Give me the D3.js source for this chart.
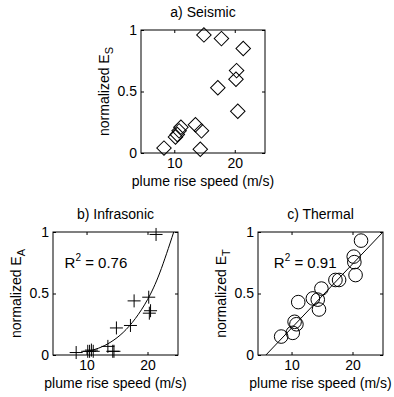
<!DOCTYPE html>
<html>
<head>
<meta charset="utf-8">
<script src="https://cdn.jsdelivr.net/npm/d3@7"></script>
<style>
  body { margin: 0; background: #fff; }
  text { font-family: "Liberation Sans", Arial, sans-serif; fill: #000; }
</style>
</head>
<body>
<script>
// plume rise speed (m/s), same events in every panel
const speed = [8.3, 10.2, 10.5, 10.8, 11.1, 13.5, 14.3, 14.5, 14.9, 17.2, 17.8, 20.2, 20.3, 20.5, 21.4];
// normalized energies
const seismic    = [0.04, 0.13, 0.15, 0.18, 0.21, 0.23, 0.03, 0.18, 0.96, 0.53, 0.93, 0.60, 0.67, 0.34, 0.85];
const infrasonic = [0.02, 0.03, 0.03, 0.04, 0.03, 0.07, 0.03, 0.03, 0.22, 0.24, 0.44, 0.47, 0.34, 0.36, 0.98];
const thermal    = [0.15, 0.18, 0.27, 0.25, 0.43, 0.46, 0.45, 0.37, 0.54, 0.61, 0.61, 0.80, 0.755, 0.65, 0.93];

// fitted curves
const infraFitX = [10, 12, 14, 16, 18, 20, 22, 24.3];
const infraFitY = [0.027, 0.056, 0.106, 0.183, 0.296, 0.45, 0.667, 1];
const thermalFitX = [5.8, 25];
const thermalFitY = [0, 1];

const xTicks = [10, 20];
const yTicks = [0, 0.5, 1];
const xDomain = [4.5, 25];
const yDomain = [0, 1];

const width = 394;
const height = 397;
const fontSize = 14;

const svg = d3.select("body")
    .append("svg")
    .attr("width", width)
    .attr("height", height);

function drawPanel(box, title, sub, ys, marker, fitX, fitY, r2) {
    const x = d3.scaleLinear().domain(xDomain).range([box.left, box.right]);
    const y = d3.scaleLinear().domain(yDomain).range([box.bottom, box.top]);
    const g = svg.append("g");
    const cx = (box.left + box.right) / 2;
    const cy = (box.top + box.bottom) / 2;

    // axes, ticks pointing inwards like matlab
    const styleAxis = (a) => {
        a.select(".domain").remove();
        a.selectAll("line").attr("stroke", "#000");
        a.selectAll("text").attr("font-size", fontSize).attr("font-family", "Liberation Sans, Arial, sans-serif");
    };
    g.append("g").attr("transform", "translate(0," + box.bottom + ")")
        .call(d3.axisBottom(x).tickValues(xTicks).tickSizeInner(-3).tickSizeOuter(0).tickPadding(5))
        .call(styleAxis);
    g.append("g").attr("transform", "translate(0," + box.top + ")")
        .call(d3.axisTop(x).tickValues(xTicks).tickSizeInner(-3).tickSizeOuter(0).tickFormat(""))
        .call(styleAxis);
    g.append("g").attr("transform", "translate(" + box.left + ",0)")
        .call(d3.axisLeft(y).tickValues(yTicks).tickSizeInner(-3).tickSizeOuter(0).tickPadding(4).tickFormat(d3.format("")))
        .call(styleAxis);
    g.append("g").attr("transform", "translate(" + box.right + ",0)")
        .call(d3.axisRight(y).tickValues(yTicks).tickSizeInner(-3).tickSizeOuter(0).tickFormat(""))
        .call(styleAxis);

    g.append("rect")
        .attr("x", box.left).attr("y", box.top)
        .attr("width", box.right - box.left).attr("height", box.bottom - box.top)
        .attr("fill", "none").attr("stroke", "#000").attr("stroke-width", 1);

    // clip for the fit line
    const clipId = "clip" + sub;
    svg.append("clipPath").attr("id", clipId).append("rect")
        .attr("x", box.left).attr("y", box.top)
        .attr("width", box.right - box.left).attr("height", box.bottom - box.top);

    if (fitX) {
        const pts = fitX.map((v, i) => [v, fitY[i]]);
        g.append("path")
            .attr("clip-path", "url(#" + clipId + ")")
            .attr("d", d3.line().x(d => x(d[0])).y(d => y(d[1])).curve(d3.curveNatural)(pts))
            .attr("fill", "none").attr("stroke", "#000").attr("stroke-width", 1);
    }

    const data = speed.map((s, i) => ({ s: s, v: ys[i] }));
    const pts = g.append("g").attr("fill", "none").attr("stroke", "#000").attr("stroke-width", 1);
    if (marker === "diamond") {
        pts.selectAll("path").data(data).join("path")
            .attr("transform", d => "translate(" + x(d.s) + "," + y(d.v) + ") rotate(45)")
            .attr("d", d3.symbol(d3.symbolSquare, 105));
    } else if (marker === "circle") {
        pts.selectAll("circle").data(data).join("circle")
            .attr("cx", d => x(d.s)).attr("cy", d => y(d.v)).attr("r", 6.8);
    } else {
        pts.selectAll("line.h").data(data).join("line").attr("class", "h")
            .attr("x1", d => x(d.s) - 6.5).attr("x2", d => x(d.s) + 6.5)
            .attr("y1", d => y(d.v)).attr("y2", d => y(d.v));
        pts.selectAll("line.v").data(data).join("line").attr("class", "v")
            .attr("x1", d => x(d.s)).attr("x2", d => x(d.s))
            .attr("y1", d => y(d.v) - 6.5).attr("y2", d => y(d.v) + 6.5);
    }

    // labels
    g.append("text").attr("x", cx).attr("y", box.top - 13)
        .attr("text-anchor", "middle").attr("font-size", fontSize).text(title);
    g.append("text").attr("x", cx).attr("y", box.bottom + 33)
        .attr("text-anchor", "middle").attr("font-size", fontSize).text("plume rise speed (m/s)");
    const yl = g.append("text")
        .attr("transform", "translate(" + (box.left - 32) + "," + cy + ") rotate(-90)")
        .attr("text-anchor", "middle").attr("font-size", fontSize);
    yl.append("tspan").text("normalized E");
    yl.append("tspan").attr("font-size", 11).attr("dy", 4).text(sub);

    if (r2) {
        const t = g.append("text").attr("x", x(r2.x)).attr("y", y(r2.y)).attr("font-size", 15);
        t.append("tspan").text("R");
        t.append("tspan").attr("font-size", 10).attr("dy", -7).text("2");
        t.append("tspan").attr("dy", 7).text(" = " + r2.text);
    }
}

drawPanel({ left: 141, right: 265, top: 30, bottom: 153 }, "a) Seismic", "S", seismic, "diamond");
drawPanel({ left: 53, right: 178, top: 232, bottom: 355 }, "b) Infrasonic", "A", infrasonic, "plus",
    infraFitX, infraFitY, { x: 6.4, y: 0.71, text: "0.76" });
drawPanel({ left: 258, right: 383, top: 232, bottom: 355 }, "c) Thermal", "T", thermal, "circle",
    thermalFitX, thermalFitY, { x: 7.1, y: 0.71, text: "0.91" });
</script>
</body>
</html>
